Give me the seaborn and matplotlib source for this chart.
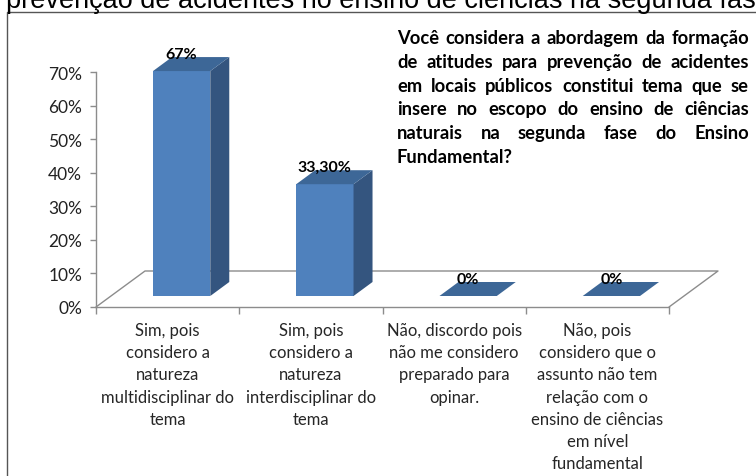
import matplotlib
matplotlib.use("Agg")
import matplotlib.pyplot as plt
import seaborn as sns
import pandas as pd
from matplotlib.patches import Polygon
from matplotlib.lines import Line2D
from matplotlib.transforms import ScaledTranslation

# dados do gráfico
categorias = [
    "Sim, pois\nconsidero a\nnatureza\nmultidisciplinar do\ntema",
    "Sim, pois\nconsidero a\nnatureza\ninterdisciplinar do\ntema",
    "Não, discordo pois\nnão me considero\npreparado para\nopinar.",
    "Não, pois\nconsidero que o\nassunto não tem\nrelação com o\nensino de ciências\nem nível\nfundamental",
]
valores = [0.67, 0.333, 0.0, 0.0]
rotulos = ["67%", "33,30%", "0%", "0%"]
ticks_y = [0.0, 0.1, 0.2, 0.3, 0.4, 0.5, 0.6, 0.7]
rotulos_y = ["0%", "10%", "20%", "30%", "40%", "50%", "60%", "70%"]
pergunta = [
    "Você considera a abordagem da formação",
    "de atitudes para prevenção de acidentes",
    "em locais públicos constitui tema que se",
    "insere no escopo do ensino de ciências",
    "naturais na segunda fase do Ensino",
    "Fundamental?",
]
cabecalho = "prevenção de acidentes no ensino de ciências na segunda fase"

cor_frente = "#4f81bd"
cor_lado = "#34557f"
cor_topo = "#3d6797"
cor_linha = "#8c8c8c"

sns.set_theme(style="white")
plt.rcParams["font.family"] = ["Lato", "DejaVu Sans"]

W, H = 756, 477
fig = plt.figure(figsize=(W / 100, H / 100), dpi=100)
ax = fig.add_axes([96 / W, (H - 308) / H, 573 / W, 235 / H])

df = pd.DataFrame({"resposta": categorias, "valor": valores})
sns.barplot(data=df, x="resposta", y="valor", color=cor_frente,
            saturation=1, width=0.4, ax=ax)
ax.set_xlim(-0.5, 3.5)
ax.set_ylim(0, 0.7)

# pixels -> unidades de dados
px_x = 573 / 4
px_y = 235 / 0.7
desloc = ax.transData + ScaledTranslation(0.14, 0.11, fig.dpi_scale_trans)
ddx, ddy = 19 / px_x, 14 / px_y

# chão 3D
fdx, fdy = 49 / px_x, 36 / px_y
ax.plot([-0.5, -0.5 + fdx, 3.5 + fdx, 3.5], [0, fdy, fdy, 0],
        color=cor_linha, lw=1, clip_on=False, zorder=1)

# barras 3D
for p, lab in zip(list(ax.patches), rotulos):
    p.set_transform(desloc)
    p.set_zorder(3)
    p.set_clip_on(False)
    p.set_linewidth(0)
    x0, w, h = p.get_x(), p.get_width(), p.get_height()
    lado = Polygon([(x0 + w, 0), (x0 + w + ddx, ddy), (x0 + w + ddx, h + ddy), (x0 + w, h)],
                   closed=True, facecolor=cor_lado, lw=0, transform=desloc,
                   clip_on=False, zorder=3)
    topo = Polygon([(x0, h), (x0 + w, h), (x0 + w + ddx, h + ddy), (x0 + ddx, h + ddy)],
                   closed=True, facecolor=cor_topo, lw=0, transform=desloc,
                   clip_on=False, zorder=3)
    ax.add_patch(lado)
    ax.add_patch(topo)
    ax.text(x0 + w / 2, h, lab, ha="center", va="baseline", fontsize=11.5,
            fontweight="bold", color="black", zorder=5,
            transform=desloc + ScaledTranslation(0, 0.13, fig.dpi_scale_trans))

# eixos
sns.despine(ax=ax, top=True, right=True)
for s in ["left", "bottom"]:
    ax.spines[s].set_color(cor_linha)
    ax.spines[s].set_linewidth(1)
ax.set_yticks(ticks_y, rotulos_y)
ax.set_xticks(range(4), categorias)
ax.set_xticks([-0.5, 0.5, 1.5, 2.5, 3.5], minor=True)
ax.tick_params(axis="y", left=True, length=4, width=1, color=cor_linha,
               labelsize=12.5, labelcolor="#222222", pad=6)
ax.tick_params(axis="x", which="major", length=0, labelsize=12, pad=11)
ax.tick_params(axis="x", which="minor", bottom=True, length=5, width=1, color=cor_linha)
for t in ax.get_xticklabels():
    t.set_linespacing(1.47)
ax.set_xlabel("")
ax.set_ylabel("")
ax.patch.set_alpha(0)

# moldura
fig.add_artist(Line2D([7 / W, 7 / W, 1], [0, (H - 13) / H, (H - 13) / H],
                      transform=fig.transFigure, color="#555555", lw=1))

# linha de texto cortada no topo
fig.text(6 / W, (H - 8) / H, cabecalho, fontsize=19.5, va="baseline",
         family=["Liberation Sans", "DejaVu Sans"], color="black")

# pergunta justificada
renderer = fig.canvas.get_renderer()
x_esq, x_dir = 397, 749
fs = 13.2
for i, linha in enumerate(pergunta):
    palavras = linha.split()
    yb = (H - (44 + i * 23.8)) / H
    objs = [fig.text(0, yb, pal, fontsize=fs, fontweight="bold", va="baseline",
                     color="black") for pal in palavras]
    larg = [o.get_window_extent(renderer).width for o in objs]
    if i == len(pergunta) - 1 or len(palavras) == 1:
        gap = fs * 0.27 * 100 / 72
    else:
        gap = (x_dir - x_esq - sum(larg)) / (len(palavras) - 1)
    x = x_esq
    for o, lw in zip(objs, larg):
        o.set_x(x / W)
        x += lw + gap

fig.savefig("out.png", dpi=100)
